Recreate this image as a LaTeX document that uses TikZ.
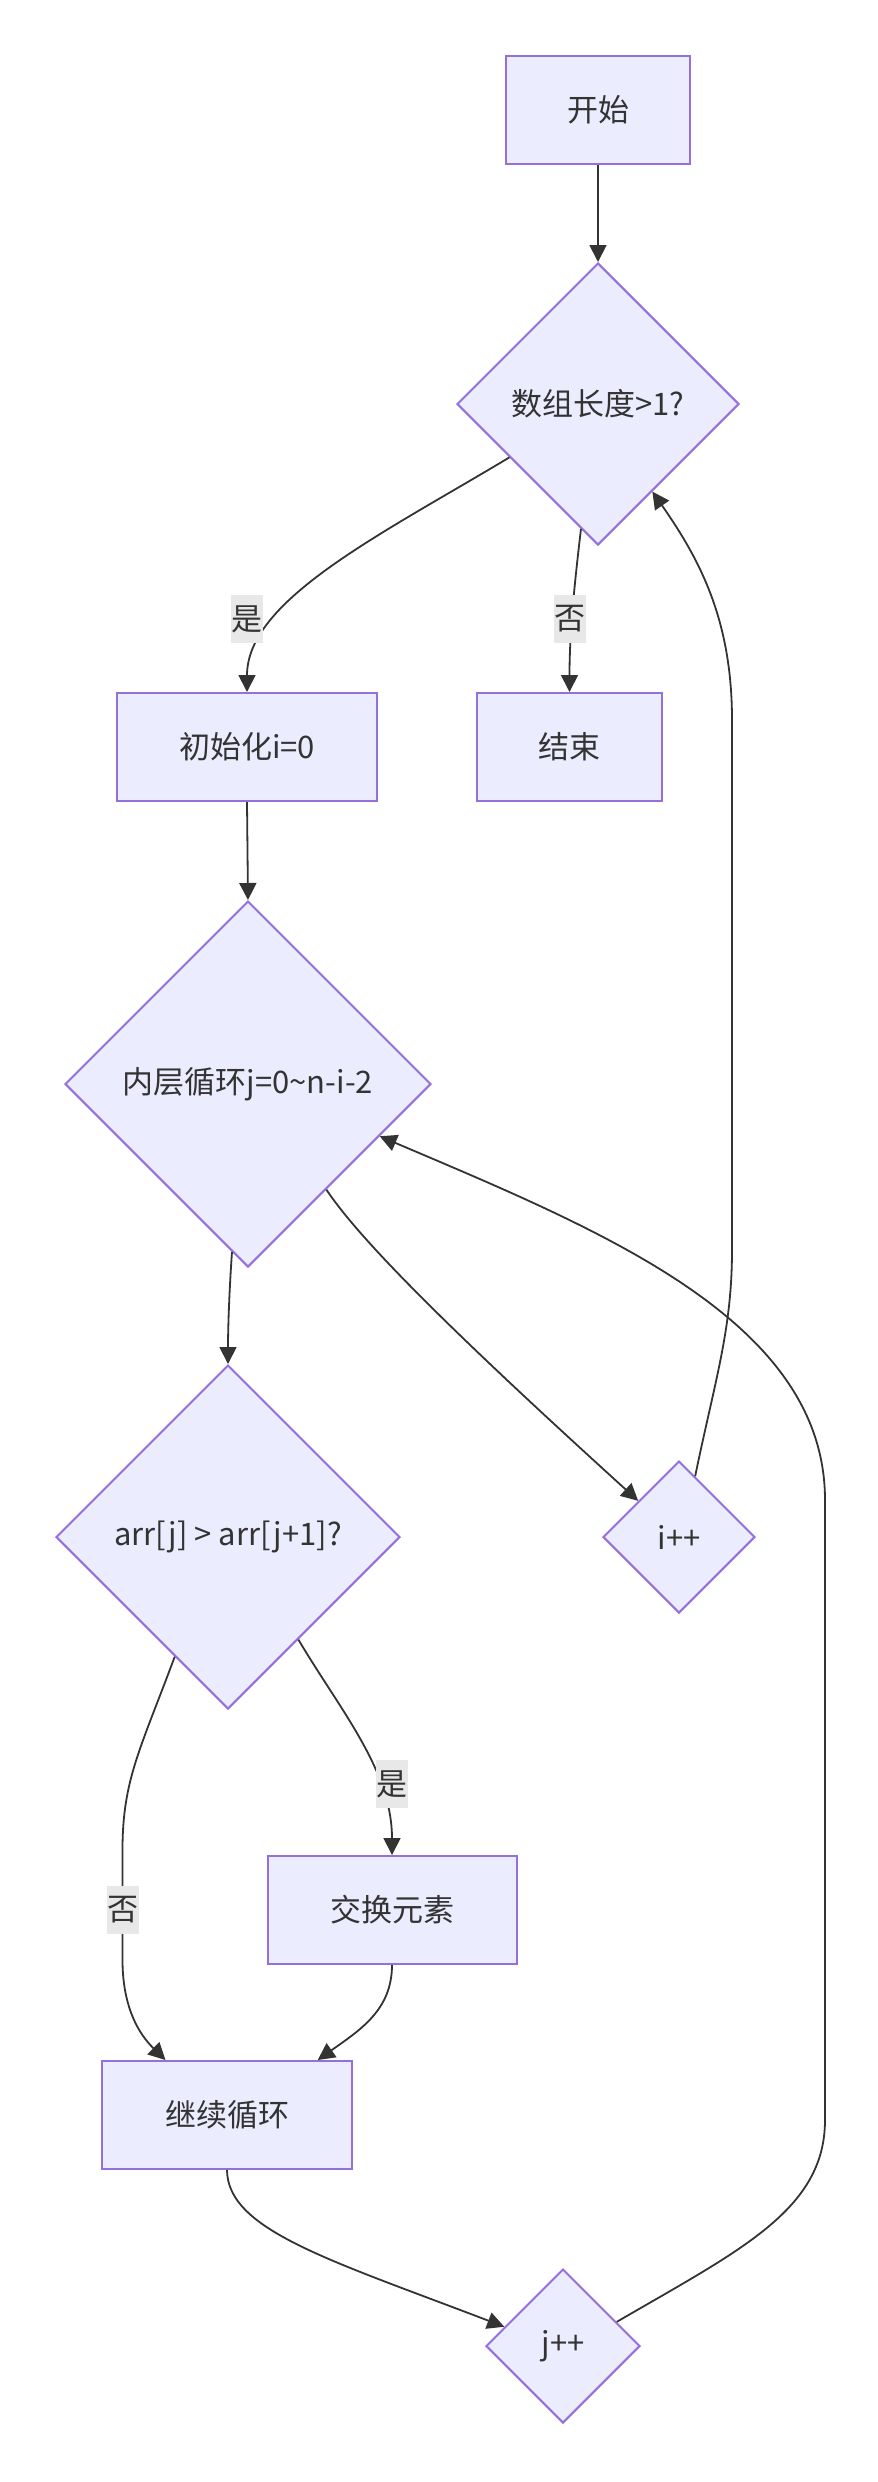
\documentclass[tikz,border=0pt]{standalone}
\usepackage{fontspec}
\setmainfont{Noto Sans CJK SC}
\usetikzlibrary{shapes.geometric,arrows.meta,calc}
\definecolor{nodefill}{HTML}{ECECFF}
\definecolor{nodestroke}{HTML}{9370DB}
\definecolor{edgecol}{HTML}{333333}
\definecolor{lblbg}{HTML}{E8E8E8}
\begin{document}
\begin{tikzpicture}[x=1pt,y=-1pt,
  every node/.style={text=edgecol, font=\fontsize{31}{37}\selectfont},
  procbox/.style={draw=nodestroke, fill=nodefill, line width=2pt, rectangle, inner sep=0pt, minimum height=108pt},
  decbox/.style={draw=nodestroke, fill=nodefill, line width=2pt, diamond, aspect=1, inner sep=0pt},
  flow/.style={draw=edgecol, line width=1.8pt, -{Triangle[length=17pt,width=17pt]}},
  edgelbl/.style={fill=lblbg, inner xsep=0.5pt, inner ysep=0pt, minimum height=48pt}
]
\useasboundingbox (0,0) rectangle (878,2482);
% nodes
\node[procbox, minimum width=184pt] (start) at (598,110) {开始};
\node[decbox, minimum width=282pt, minimum height=282pt] (D1) at (598,404) {数组长度>1?};
\node[procbox, minimum width=260pt] (init) at (247,747) {初始化i=0};
\node[procbox, minimum width=185pt] (finish) at (569.5,747) {结束};
\node[decbox, minimum width=366pt, minimum height=366pt] (D2) at (248,1084) {内层循环j=0\textasciitilde n-i-2};
\node[decbox, minimum width=344pt, minimum height=344pt] (D3) at (228,1537) {arr[j] > arr[j+1]?};
\node[decbox, minimum width=152pt, minimum height=152pt] (inc) at (679,1537) {i++};
\node[procbox, minimum width=249pt] (swap) at (392,1910) {交换元素};
\node[procbox, minimum width=250pt] (cont) at (227,2115) {继续循环};
\node[decbox, minimum width=154pt, minimum height=154pt] (jinc) at (563,2346) {j++};
% edges
\draw[flow] (start.south) -- (D1.north);
\draw[flow] ($(D1.west)!0.376!(D1.south)$) .. controls (380,535) and (247,600) .. (init.north);
\draw[flow] ($(D1.west)!0.88!(D1.south)$) .. controls (575,580) and (569.5,630) .. (finish.north);
\draw[flow] (init.south) -- (D2.north);
\draw[flow] ($(D2.west)!0.913!(D2.south)$) .. controls (229,1295) and (228,1330) .. (D3.north);
\draw[flow] ($(D2.south)!0.426!(D2.east)$) .. controls (360,1240) and (450,1330) .. ($(inc.west)!0.47!(inc.north)$);
\draw[flow] ($(inc.north)!0.21!(inc.east)$) .. controls (715,1380) and (732,1330) .. (732,1250) -- (732,720) .. controls (732,620) and (700,560) .. ($(D1.south)!0.383!(D1.east)$);
\draw[flow] ($(D3.south)!0.407!(D3.east)$) .. controls (340,1710) and (392,1770) .. (swap.north);
\draw[flow] ($(D3.west)!0.692!(D3.south)$) .. controls (140,1750) and (122.5,1780) .. (122.5,1850) -- (122.5,1960) .. controls (122.5,2015) and (145,2040) .. ($(cont.north west)!0.256!(cont.north east)$);
\draw[flow] (swap.south) .. controls (392,2010) and (360,2030) .. ($(cont.north west)!0.86!(cont.north east)$);
\draw[flow] (cont.south) .. controls (227.5,2230) and (330,2260) .. ($(jinc.west)!0.247!(jinc.north)$);
\draw[flow] ($(jinc.north)!0.69!(jinc.east)$) .. controls (740,2250) and (825,2210) .. (825,2120) -- (825,1500) .. controls (825,1320) and (600,1230) .. ($(D2.south)!0.716!(D2.east)$);
% edge labels
\node[edgelbl] (l1) at (247,619) {是};
\node[edgelbl] (l2) at (570,619) {否};
\node[edgelbl] (l3) at (392,1784) {是};
\node[edgelbl] (l4) at (122.5,1910) {否};
\end{tikzpicture}
\end{document}
